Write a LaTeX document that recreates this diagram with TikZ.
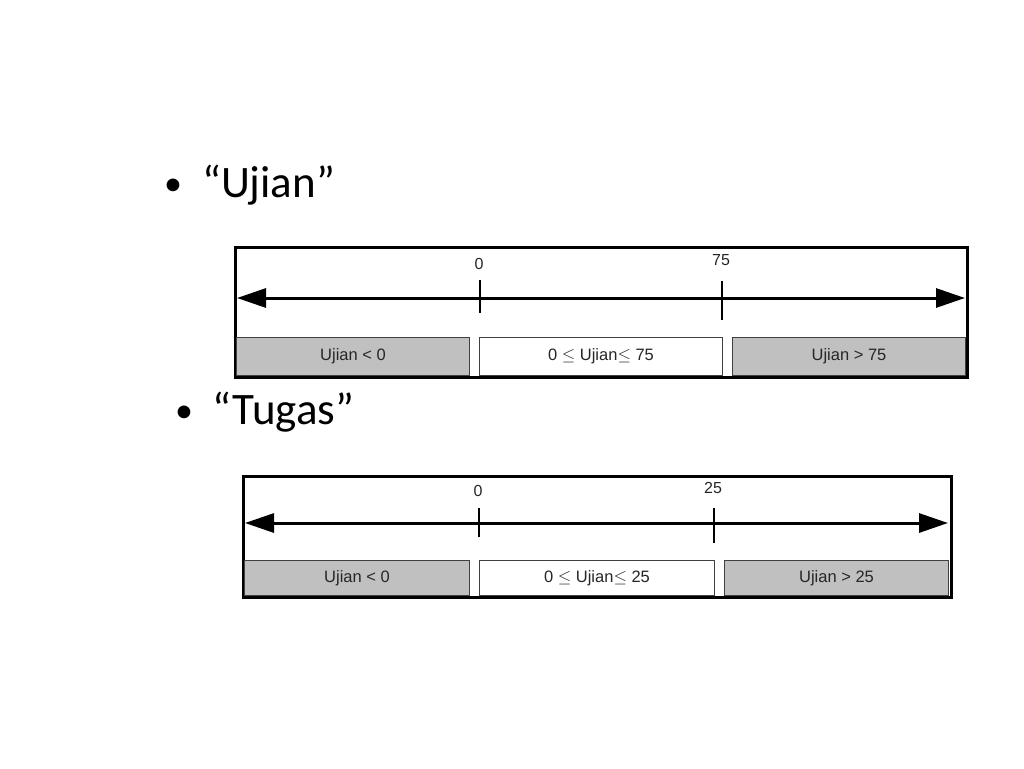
\documentclass[tikz,border=0pt]{standalone}
\usepackage{fontspec}
\setmainfont{Carlito}
\newfontfamily\arialf{Liberation Sans}
\usetikzlibrary{arrows.meta}
\definecolor{boxgray}{HTML}{C0C0C0}
\definecolor{edgegray}{HTML}{404040}
\newcommand{\myleq}{{\fontsize{19}{20}\selectfont$\leq$}}
\tikzset{
  bullettext/.style={anchor=base west, inner sep=0, font=\fontsize{45}{50}\selectfont},
  bulletdot/.style={anchor=base, inner sep=0, font=\fontsize{36}{40}\selectfont},
  outerframe/.style={draw=black, line width=2.5pt},
  rangebox/.style={draw=edgegray, line width=1pt, inner sep=0, font=\arialf\fontsize{16.5}{18}\selectfont, text=black!85},
  grayrange/.style={rangebox, fill=boxgray},
  whiterange/.style={rangebox, fill=white},
  numaxis/.style={line width=3pt, {Triangle[length=29pt,width=19pt]}-{Triangle[length=29pt,width=19pt]}},
  tickmark/.style={line width=1.2pt},
  ticklabel/.style={inner sep=0, font=\arialf\fontsize{16}{18}\selectfont, text=black!85}
}
\begin{document}
\begin{tikzpicture}[x=1pt,y=-1pt]
\useasboundingbox (0,0) rectangle (1024,768);
% ---- Ujian ----
\node[bulletdot] (b1) at (173,195) {•};
\node[bullettext] (t1) at (202,197) {“Ujian”};
\node[outerframe, minimum width=732pt, minimum height=130pt, inner sep=0, anchor=north west] (f1) at (234,246) {};
\coordinate (a1l) at (237,298);
\coordinate (a1r) at (965,298);
\draw[numaxis] (a1l) -- (a1r);
\coordinate (k1a) at (480,280); \coordinate (k1b) at (480,313);
\coordinate (k2a) at (722,281); \coordinate (k2b) at (722,320);
\draw[tickmark] (k1a) -- (k1b);
\draw[tickmark] (k2a) -- (k2b);
\node[ticklabel] (l10) at (479,264) {0};
\node[ticklabel] (l175) at (721,260) {75};
\node[grayrange, minimum width=233pt, minimum height=38pt, anchor=north west] (r11) at (236,337) {Ujian < 0};
\node[whiterange, minimum width=243pt, minimum height=38pt, anchor=north west] (r12) at (479,337) {0 \myleq{} Ujian\myleq{} 75};
\node[grayrange, minimum width=233pt, minimum height=38pt, anchor=north west] (r13) at (732,337) {Ujian > 75};
% ---- Tugas ----
\node[bulletdot] (b2) at (184,422) {•};
\node[bullettext] (t2) at (212,424) {“Tugas”};
\node[outerframe, minimum width=708pt, minimum height=121pt, inner sep=0, anchor=north west] (f2) at (242,475) {};
\coordinate (a2l) at (245,523);
\coordinate (a2r) at (948,523);
\draw[numaxis] (a2l) -- (a2r);
\coordinate (k3a) at (479,508); \coordinate (k3b) at (479,537);
\coordinate (k4a) at (714,508); \coordinate (k4b) at (714,543);
\draw[tickmark] (k3a) -- (k3b);
\draw[tickmark] (k4a) -- (k4b);
\node[ticklabel] (l20) at (478,491) {0};
\node[ticklabel] (l225) at (713,488) {25};
\node[grayrange, minimum width=225pt, minimum height=35pt, anchor=north west] (r21) at (244,560) {Ujian < 0};
\node[whiterange, minimum width=235pt, minimum height=35pt, anchor=north west] (r22) at (479,560) {0 \myleq{} Ujian\myleq{} 25};
\node[grayrange, minimum width=224pt, minimum height=35pt, anchor=north west] (r23) at (724,560) {Ujian > 25};
\end{tikzpicture}
\end{document}
